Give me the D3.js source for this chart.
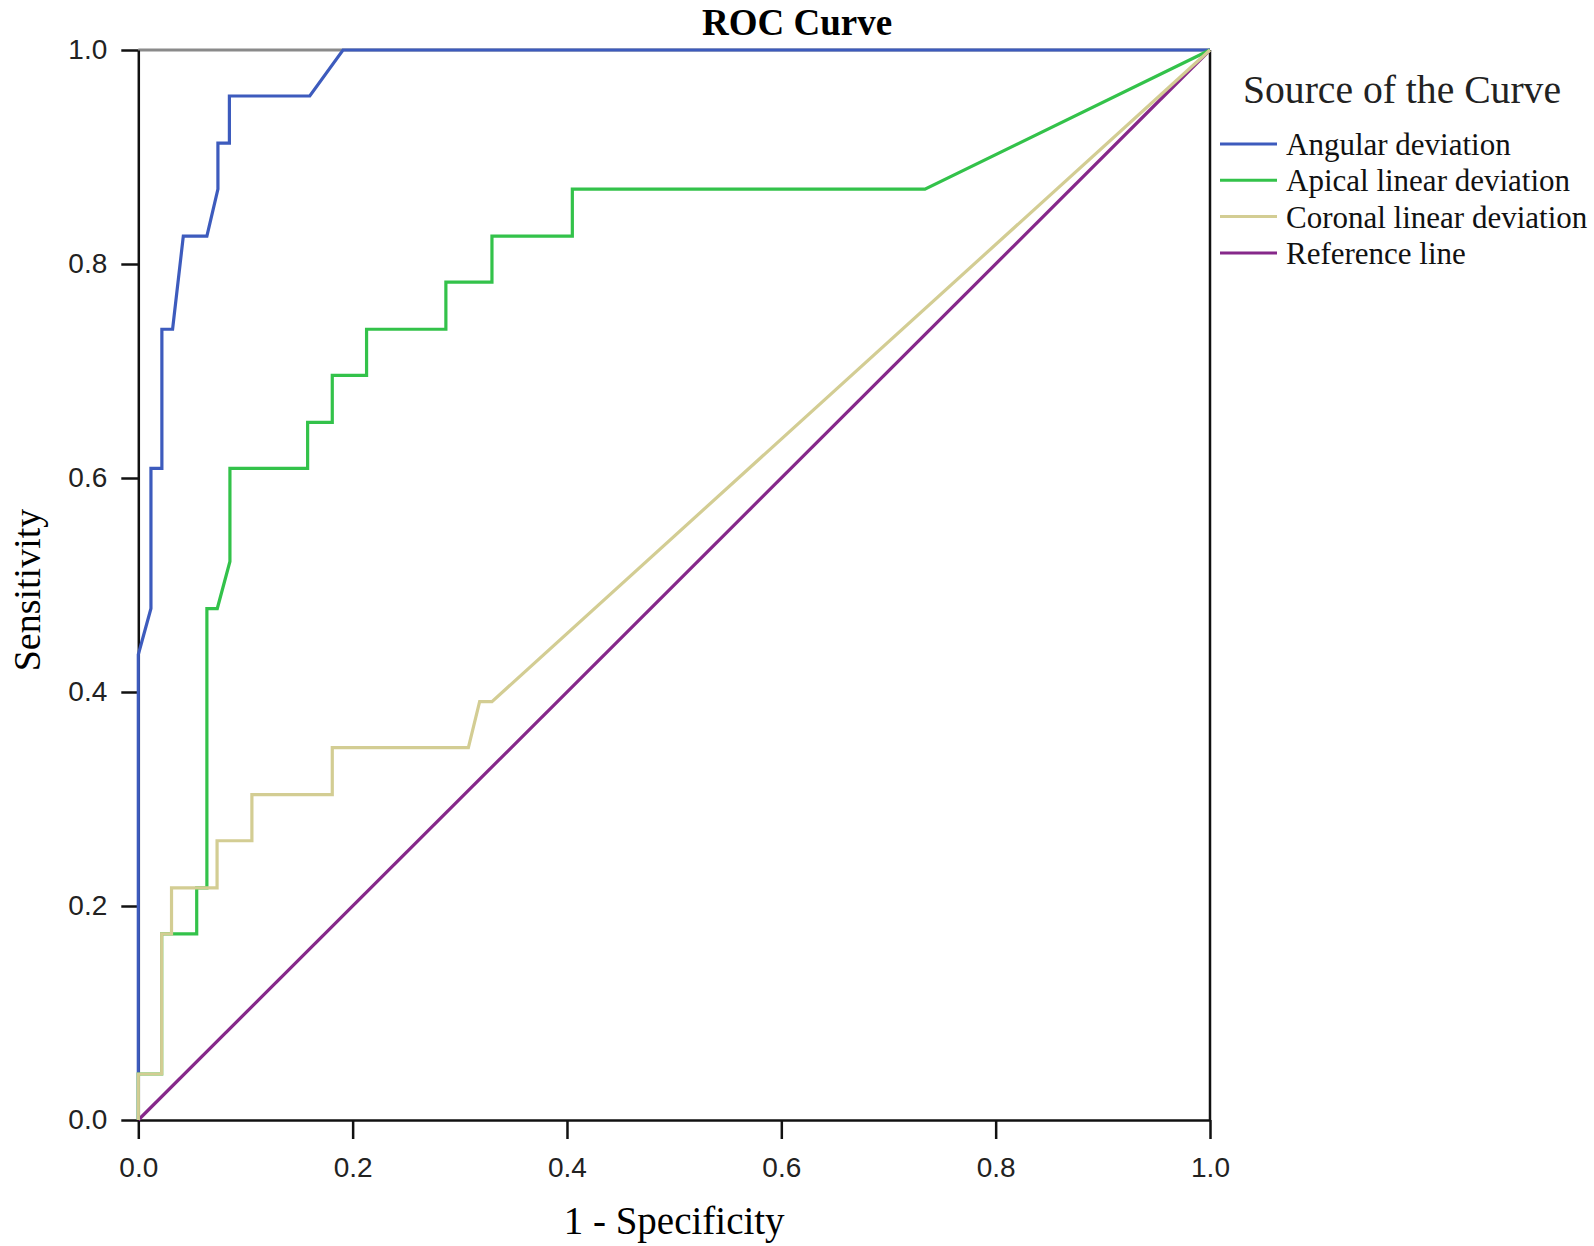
<!DOCTYPE html>
<html>
<head>
<meta charset="utf-8">
<script src="https://cdn.jsdelivr.net/npm/d3@7"></script>
<style>
    body { margin: 0; background: #fff; }
    svg { display: block; }
</style>
</head>
<body>
<div id="d3-container"></div>
<script>
// ROC coordinates (x = 1 - specificity, y = sensitivity)
const angularX = [0, 0, 0.0118, 0.0118, 0.022, 0.022, 0.032, 0.042, 0.064, 0.0743, 0.0743, 0.085, 0.085, 0.160, 0.191, 1];
const angularY = [0, 0.435, 0.478, 0.609, 0.609, 0.739, 0.739, 0.826, 0.826, 0.870, 0.913, 0.913, 0.957, 0.957, 1, 1];

const apicalX = [0, 0, 0.0218, 0.0218, 0.0545, 0.0545, 0.064, 0.064, 0.0737, 0.0855, 0.0855, 0.158, 0.158, 0.181, 0.181, 0.213, 0.213, 0.287, 0.287, 0.330, 0.330, 0.405, 0.405, 0.734, 1];
const apicalY = [0, 0.043, 0.043, 0.174, 0.174, 0.217, 0.217, 0.478, 0.478, 0.522, 0.609, 0.609, 0.652, 0.652, 0.696, 0.696, 0.739, 0.739, 0.783, 0.783, 0.826, 0.826, 0.870, 0.870, 1];

const coronalX = [0, 0, 0.0218, 0.0218, 0.031, 0.031, 0.0735, 0.0735, 0.106, 0.106, 0.181, 0.181, 0.308, 0.3185, 0.330, 1];
const coronalY = [0, 0.043, 0.043, 0.174, 0.174, 0.217, 0.217, 0.261, 0.261, 0.304, 0.304, 0.348, 0.348, 0.391, 0.391, 1];

const referenceX = [0, 1];
const referenceY = [0, 1];

const seriesNames = ["Angular deviation", "Apical linear deviation", "Coronal linear deviation", "Reference line"];
const seriesColors = ["#3d5bbd", "#33c24a", "#d3cd93", "#86288a"];
const tickValues = [0, 0.2, 0.4, 0.6, 0.8, 1.0];

function zip(xs, ys) {
    return xs.map((v, i) => [v, ys[i]]);
}

function drawChart() {
    const width = 1594;
    const height = 1246;
    const margin = { top: 50, bottom: 126, left: 138.3, right: 384 };

    const serif = '"Liberation Serif", "Times New Roman", serif';
    const sans = '"Liberation Sans", Arial, sans-serif';

    const svg = d3.select('#d3-container')
        .append('svg')
        .attr('width', width)
        .attr('height', height);

    const x = d3.scaleLinear()
        .domain([0, 1])
        .range([margin.left, width - margin.right]);

    const y = d3.scaleLinear()
        .domain([0, 1])
        .range([height - margin.bottom, margin.top]);

    // frame: grey top, black right
    svg.append("line")
        .attr("x1", x(0)).attr("x2", x(1))
        .attr("y1", y(1)).attr("y2", y(1))
        .attr("stroke", "#8a8a8a")
        .attr("stroke-width", 3);
    svg.append("line")
        .attr("x1", x(1)).attr("x2", x(1))
        .attr("y1", y(1)).attr("y2", y(0))
        .attr("stroke", "#111")
        .attr("stroke-width", 2.5);

    function yAxis(g) {
        g.attr("transform", `translate(${margin.left}, 0)`)
            .call(d3.axisLeft(y).tickValues(tickValues).tickFormat(d3.format(".1f"))
                .tickSize(17).tickSizeOuter(0).tickPadding(14))
            .attr("font-size", '28px')
            .attr("font-family", sans);
    }

    function xAxis(g) {
        g.attr("transform", `translate(0,${height - margin.bottom})`)
            .call(d3.axisBottom(x).tickValues(tickValues).tickFormat(d3.format(".1f"))
                .tickSize(19).tickSizeOuter(0).tickPadding(18))
            .attr("font-size", '28px')
            .attr("font-family", sans);
    }

    svg.append("g").call(xAxis);
    svg.append("g").call(yAxis);
    svg.selectAll(".domain, .tick line")
        .attr("stroke", "#111")
        .attr("stroke-width", 2.5);
    svg.selectAll(".tick text").attr("fill", "#222");

    const line = d3.line()
        .x(d => x(d[0]))
        .y(d => y(d[1]));

    const curves = [
        { name: seriesNames[3], color: seriesColors[3], pts: zip(referenceX, referenceY) },
        { name: seriesNames[0], color: seriesColors[0], pts: zip(angularX, angularY) },
        { name: seriesNames[1], color: seriesColors[1], pts: zip(apicalX, apicalY) },
        { name: seriesNames[2], color: seriesColors[2], pts: zip(coronalX, coronalY) }
    ];

    svg.append("g")
        .selectAll("path")
        .data(curves)
        .join("path")
        .attr("d", d => line(d.pts))
        .attr("fill", "none")
        .attr("stroke", d => d.color)
        .attr("stroke-width", 3.2)
        .attr("stroke-linejoin", "miter");

    // titles
    svg.append("text")
        .attr("x", width / 2)
        .attr("y", 35)
        .attr("text-anchor", "middle")
        .attr("font-family", serif)
        .attr("font-weight", "bold")
        .attr("font-size", "37px")
        .text("ROC Curve");

    svg.append("text")
        .attr("x", (x(0) + x(1)) / 2)
        .attr("y", 1234)
        .attr("text-anchor", "middle")
        .attr("font-family", serif)
        .attr("font-size", "39px")
        .text("1 - Specificity");

    svg.append("text")
        .attr("transform", `translate(40, ${(y(0) + y(1)) / 2 + 5}) rotate(-90)`)
        .attr("text-anchor", "middle")
        .attr("font-family", serif)
        .attr("font-size", "38px")
        .text("Sensitivity");

    // legend
    const legend = svg.append("g").attr("transform", "translate(1220, 0)");
    legend.append("text")
        .attr("x", 23)
        .attr("y", 103)
        .attr("font-family", serif)
        .attr("font-size", "41px")
        .attr("textLength", 318)
        .attr("lengthAdjust", "spacingAndGlyphs")
        .attr("fill", "#222")
        .text("Source of the Curve");

    const items = legend.selectAll("g.item")
        .data(seriesNames)
        .join("g")
        .attr("class", "item")
        .attr("transform", (d, i) => `translate(0, ${144 + i * 36.3})`);

    items.append("line")
        .attr("x1", 0).attr("x2", 57)
        .attr("stroke", (d, i) => seriesColors[i])
        .attr("stroke-width", 3);

    items.append("text")
        .attr("x", 66)
        .attr("y", 11)
        .attr("font-family", serif)
        .attr("font-size", "31px")
        .attr("fill", "#111")
        .text(d => d);
}

drawChart();
</script>
</body>
</html>
